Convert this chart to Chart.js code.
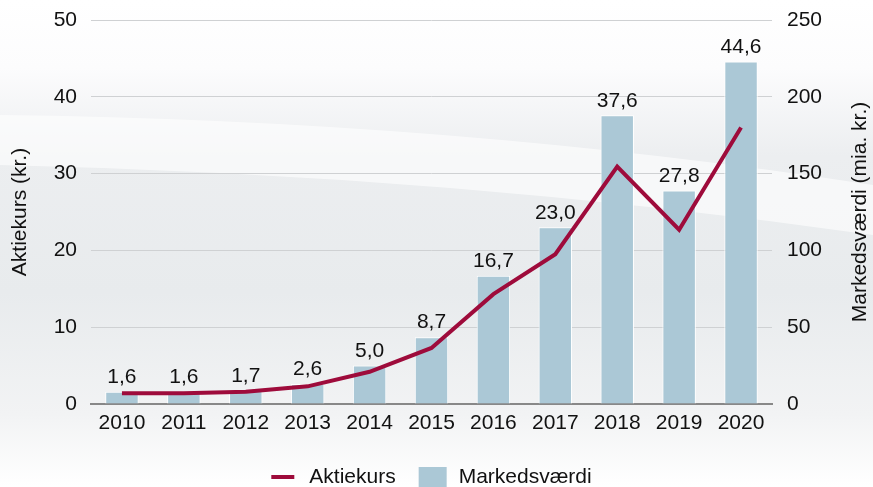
<!DOCTYPE html>
<html>
<head>
<meta charset="utf-8">
<script src="https://cdn.jsdelivr.net/npm/chart.js@4/dist/chart.umd.min.js"></script>
<style>
  html, body { margin: 0; padding: 0; background: #fff; }
  #wrap { width: 873px; height: 487px; position: relative; }
</style>
</head>
<body>
<div id="wrap"><canvas id="chart"></canvas></div>
<script>
const years = ['2010', '2011', '2012', '2013', '2014', '2015', '2016', '2017', '2018', '2019', '2020'];
const markedsvaerdi = [1.6, 1.6, 1.7, 2.6, 5.0, 8.7, 16.7, 23.0, 37.6, 27.8, 44.6];
const aktiekurs = [1.4, 1.4, 1.6, 2.3, 4.2, 7.3, 14.3, 19.5, 30.9, 22.7, 36.0];
const leftTicks = [0, 10, 20, 30, 40, 50];
const rightTicks = [0, 50, 100, 150, 200, 250];
const leftTitle = 'Aktiekurs (kr.)';
const rightTitle = 'Markedsværdi (mia. kr.)';

const FONT = 'Liberation Sans, Arial, sans-serif';
const FSIZE = 21;
const TXT = '#111';

// soft grey backdrop with a light swoosh
const backdrop = {
  id: 'backdrop',
  beforeDraw(chart) {
    const { ctx, width, height } = chart;
    ctx.save();
    const g = ctx.createLinearGradient(0, 0, 0, height);
    g.addColorStop(0, '#ffffff');
    g.addColorStop(0.14, '#fcfcfd');
    g.addColorStop(0.32, '#eceef0');
    g.addColorStop(0.6, '#e8ebed');
    g.addColorStop(0.85, '#f2f3f4');
    g.addColorStop(1, '#ffffff');
    ctx.fillStyle = g;
    ctx.fillRect(0, 0, width, height);
    ctx.fillStyle = 'rgba(255,255,255,0.6)';
    ctx.beginPath();
    ctx.moveTo(0, 115);
    ctx.quadraticCurveTo(450, 120, width, 185);
    ctx.lineTo(width, 235);
    ctx.quadraticCurveTo(450, 175, 0, 165);
    ctx.closePath();
    ctx.fill();
    ctx.restore();
  }
};

// value labels, axis titles and legend
const extras = {
  id: 'extras',
  afterDatasetsDraw(chart) {
    const { ctx, chartArea } = chart;
    ctx.save();
    ctx.font = FSIZE + 'px ' + FONT;
    ctx.fillStyle = TXT;
    ctx.textAlign = 'center';
    ctx.textBaseline = 'bottom';
    chart.getDatasetMeta(1).data.forEach((bar, i) => {
      const txt = markedsvaerdi[i].toFixed(1).replace('.', ',');
      ctx.fillText(txt, bar.x, bar.y - 4);
    });

    // axis titles, both reading bottom to top
    const midY = (chartArea.top + chartArea.bottom) / 2;
    ctx.textBaseline = 'middle';
    ctx.save();
    ctx.translate(20, midY);
    ctx.rotate(-Math.PI / 2);
    ctx.fillText(leftTitle, 0, 0);
    ctx.restore();
    ctx.save();
    ctx.translate(860, midY);
    ctx.rotate(-Math.PI / 2);
    ctx.fillText(rightTitle, 0, 0);
    ctx.restore();

    // legend
    const ds = chart.data.datasets;
    const w1 = ctx.measureText(ds[0].label).width;
    const w2 = ctx.measureText(ds[1].label).width;
    const total = 23 + 15 + w1 + 23 + 28 + 12 + w2;
    let x = (chartArea.left + chartArea.right) / 2 - total / 2;
    const y = 477;
    ctx.strokeStyle = ds[0].borderColor;
    ctx.lineWidth = 4;
    ctx.beginPath();
    ctx.moveTo(x, y);
    ctx.lineTo(x + 23, y);
    ctx.stroke();
    x += 23 + 15;
    ctx.textAlign = 'left';
    ctx.fillStyle = TXT;
    ctx.fillText(ds[0].label, x, y);
    x += w1 + 23;
    ctx.fillStyle = ds[1].backgroundColor;
    ctx.fillRect(x, y - 10, 28, 20);
    x += 28 + 12;
    ctx.fillStyle = TXT;
    ctx.fillText(ds[1].label, x, y);
    ctx.restore();
  }
};

const fixY = width => axis => {
  axis.width = width;
  axis.paddingTop = 0;
  axis.paddingBottom = 0;
};

new Chart(document.getElementById('chart'), {
  type: 'bar',
  data: {
    labels: years,
    datasets: [
      {
        type: 'line',
        label: 'Aktiekurs',
        data: aktiekurs,
        yAxisID: 'y',
        borderColor: '#9e0b3b',
        backgroundColor: '#9e0b3b',
        borderWidth: 4,
        pointRadius: 0,
        tension: 0,
        order: 0
      },
      {
        label: 'Markedsværdi',
        data: markedsvaerdi,
        yAxisID: 'y',
        backgroundColor: '#abc8d6',
        borderColor: '#ffffff',
        borderWidth: 1,
        categoryPercentage: 1,
        barPercentage: 0.54,
        order: 1
      }
    ]
  },
  options: {
    responsive: true,
    maintainAspectRatio: false,
    animation: false,
    layout: { padding: { top: 20, left: 0, right: 0, bottom: 43 } },
    plugins: {
      legend: { display: false },
      tooltip: { enabled: false }
    },
    scales: {
      x: {
        afterFit: axis => { axis.height = 40; },
        grid: { display: false, drawTicks: false },
        border: { color: '#888', width: 2 },
        ticks: { color: TXT, padding: 7, font: { family: FONT, size: FSIZE } }
      },
      y: {
        position: 'left',
        min: 0,
        max: 50,
        afterFit: fixY(91),
        afterBuildTicks: axis => { axis.ticks = leftTicks.map(v => ({ value: v })); },
        grid: { color: '#cfd1d3', drawTicks: false },
        border: { display: false },
        ticks: { color: TXT, padding: 14, font: { family: FONT, size: FSIZE } }
      },
      y1: {
        position: 'right',
        min: 0,
        max: 250,
        afterFit: fixY(101),
        afterBuildTicks: axis => { axis.ticks = rightTicks.map(v => ({ value: v })); },
        grid: { drawOnChartArea: false, drawTicks: false },
        border: { display: false },
        ticks: { color: TXT, padding: 15, font: { family: FONT, size: FSIZE } }
      }
    }
  },
  plugins: [backdrop, extras]
});
</script>
</body>
</html>
